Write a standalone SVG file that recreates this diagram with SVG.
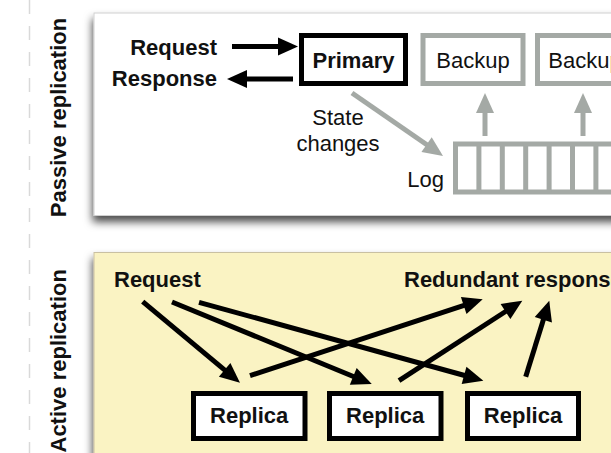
<svg xmlns="http://www.w3.org/2000/svg" width="611" height="453" viewBox="0 0 611 453">
<style>
text{font-family:"Liberation Sans",Arial,sans-serif;font-size:22px;fill:#111}
.b{font-weight:bold}
.m{text-anchor:middle}
.e{text-anchor:end}
.bk{fill:#fff;stroke:#000;stroke-width:5}
.gy{fill:#fff;stroke:#a4a9a5;stroke-width:5}
.lb{stroke:#000;stroke-width:5;fill:none;marker-end:url(#ab)}
.lg{stroke:#a4a9a5;stroke-width:5;fill:none;marker-end:url(#ag)}
</style>
<defs>
<filter id="sh" x="-10%" y="-10%" width="120%" height="130%">
<feDropShadow dx="-1" dy="6" stdDeviation="4" flood-color="#000" flood-opacity="0.7"/>
</filter>
<marker id="ab" markerUnits="userSpaceOnUse" markerWidth="20" markerHeight="18" refX="10" refY="9" orient="auto" overflow="visible">
<path d="M0,0 L20,9 L0,18 z" fill="#000"/>
</marker>
<marker id="ag" markerUnits="userSpaceOnUse" markerWidth="20" markerHeight="18" refX="10" refY="9" orient="auto" overflow="visible">
<path d="M0,0 L20,9 L0,18 z" fill="#a4a9a5"/>
</marker>
</defs>
<rect width="611" height="453" fill="#fff"/>
<line x1="29.5" y1="0" x2="29.5" y2="453" stroke="#d9d9d9" stroke-width="1.5" stroke-dasharray="14 12"/>

<g id="passive-panel">
<rect x="94" y="13" width="540" height="202.5" fill="#fff" stroke="#d0d0d0" stroke-width="1" filter="url(#sh)"/>
<text class="b m" transform="translate(65.5,117.5) rotate(-90)">Passive replication</text>
</g>
<g id="active-panel">
<rect x="94" y="252.5" width="540" height="220" fill="#faf3c3" stroke="#c9c0a2" stroke-width="1" filter="url(#sh)"/>
<text class="b" transform="translate(65.5,452.5) rotate(-90)">Active replication</text>
</g>

<g id="request-top"><text class="b e" x="217" y="54.5">Request</text></g>
<g id="response-top"><text class="b e" x="217" y="85.5">Response</text></g>
<g id="primary">
<rect class="bk" x="301.5" y="35.5" width="104" height="48"/>
<text class="b m" x="353.5" y="67.5">Primary</text>
</g>
<g id="backup1">
<rect class="gy" x="423" y="35.5" width="100" height="48"/>
<text class="m" x="473" y="68">Backup</text>
</g>
<g id="backup2">
<rect class="gy" x="537.5" y="35.5" width="100" height="48"/>
<text class="m" x="585" y="68">Backup</text>
</g>
<g id="state-changes">
<text class="m" x="338" y="125">State</text>
<text class="m" x="338" y="151">changes</text>
</g>
<g id="log">
<rect class="gy" x="455.5" y="144" width="200" height="48"/>
<path d="M478.9,144V192M502.3,144V192M525.7,144V192M549.1,144V192M572.5,144V192M595.9,144V192" stroke="#a4a9a5" stroke-width="5"/>
<text class="e" x="444" y="186.5">Log</text>
</g>

<g id="request-bottom"><text class="b" x="114" y="287">Request</text></g>
<g id="redundant"><text class="b" x="404" y="287">Redundant responses</text></g>
<g id="replica1">
<rect class="bk" x="193.5" y="393.5" width="111.5" height="45"/>
<text class="b m" x="249.2" y="423">Replica</text>
</g>
<g id="replica2">
<rect class="bk" x="329.5" y="393.5" width="111.5" height="45"/>
<text class="b m" x="385.2" y="423">Replica</text>
</g>
<g id="replica3">
<rect class="bk" x="467.5" y="393.5" width="111" height="45"/>
<text class="b m" x="523" y="423">Replica</text>
</g>

<g id="connectors">
<line class="lb" x1="232" y1="46.5" x2="288" y2="46.5"/>
<line class="lb" x1="293" y1="79" x2="237" y2="79"/>
<line class="lg" x1="352" y1="93" x2="434.8" y2="150.3"/>
<line class="lg" x1="485" y1="136" x2="485" y2="103"/>
<line class="lg" x1="583" y1="136" x2="583" y2="103"/>
<line class="lb" x1="142.7" y1="301.7" x2="232.3" y2="376.3"/>
<line class="lb" x1="172" y1="302" x2="362.5" y2="380.2"/>
<line class="lb" x1="199" y1="302.3" x2="473.7" y2="378"/>
<line class="lb" x1="250" y1="375.7" x2="473.2" y2="302.4"/>
<line class="lb" x1="399" y1="380.7" x2="513.9" y2="306.1"/>
<line class="lb" x1="525.7" y1="376.7" x2="546.3" y2="310.2"/>
</g>
</svg>
